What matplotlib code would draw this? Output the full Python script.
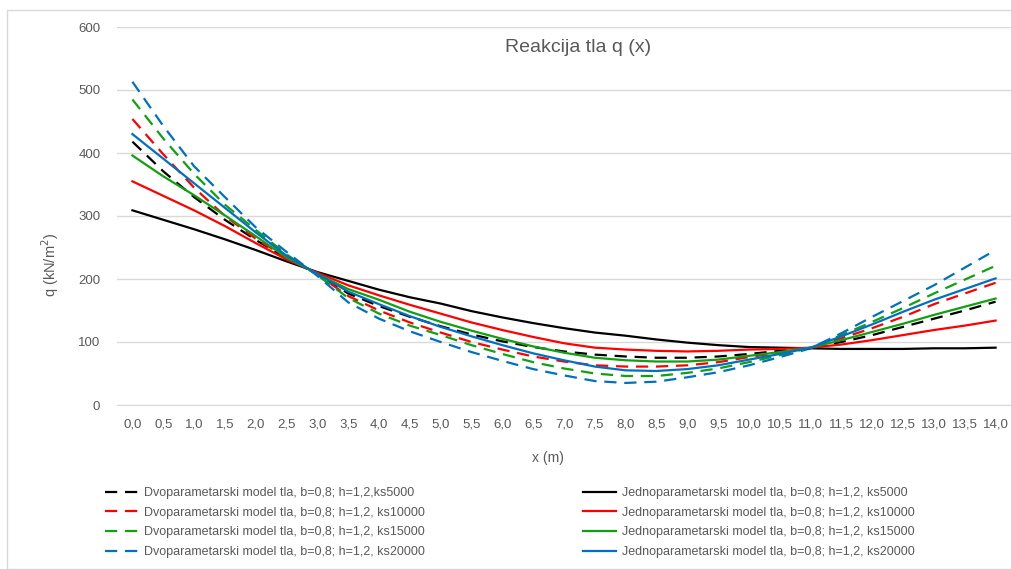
import matplotlib.pyplot as plt
from matplotlib.patches import Rectangle

plt.rcParams['font.family'] = ['Liberation Sans', 'DejaVu Sans']

# x positions (m), shown as category labels
x_m = [i * 0.5 for i in range(29)]
x_labels = [('%.1f' % v).replace('.', ',') for v in x_m]

# Jednoparametarski model tla (solid)
j5000 = [309, 294, 279, 263, 246, 228, 211, 197, 183, 171, 161, 149, 139, 130, 122,
         115, 110, 104, 99, 95, 92, 91, 90, 89, 89, 89, 90, 90, 91]
j10000 = [355, 332, 309, 284, 257, 231, 210, 190, 174, 159, 145, 131, 119, 108, 98,
          91, 88, 86, 85, 86, 88, 89, 91, 96, 103, 111, 119, 126, 134]
j15000 = [396, 363, 333, 301, 268, 234, 208, 184, 167, 148, 132, 118, 105, 93, 83,
          75, 71, 69, 69, 72, 78, 84, 91, 103, 116, 129, 143, 156, 169]
j20000 = [430, 391, 352, 313, 274, 237, 208, 180, 160, 141, 124, 109, 95, 82, 71,
          61, 55, 54, 57, 63, 72, 81, 91, 109, 128, 148, 167, 184, 201]

# Dvoparametarski model tla (dashed)
d5000 = [418, 371, 330, 294, 262, 233, 208, 177, 157, 140, 125, 112, 101, 92, 85,
         80, 77, 75, 75, 77, 81, 86, 91, 100, 111, 124, 137, 150, 164]
d10000 = [454, 398, 345, 300, 264, 234, 207, 173, 150, 131, 115, 100, 88, 77, 69,
          63, 61, 61, 63, 68, 76, 83, 91, 106, 122, 140, 160, 177, 194]
d15000 = [485, 423, 367, 318, 278, 239, 206, 170, 145, 126, 111, 95, 81, 68, 58,
          50, 46, 46, 51, 58, 68, 79, 91, 111, 132, 154, 177, 199, 221]
d20000 = [513, 443, 379, 330, 282, 243, 205, 163, 137, 117, 100, 84, 70, 57, 47,
          38, 35, 37, 44, 52, 63, 76, 90, 114, 140, 165, 190, 218, 246]

colors = ['#000000', '#FF0000', '#10A010', '#0070C0']
ks = ['5000', '10000', '15000', '20000']
dashed = [d5000, d10000, d15000, d20000]
solid = [j5000, j10000, j15000, j20000]

fig = plt.figure(figsize=(10.11, 5.69), dpi=100)
fig.patches.append(Rectangle((7 / 1011, 0), 1.0, 1 - 10 / 569, transform=fig.transFigure,
                             fill=False, edgecolor='#D9D9D9', lw=1))
ax = fig.add_axes([117 / 1011, 1 - 405 / 569, 1 - 117 / 1011, (405 - 27) / 569])

idx = list(range(len(x_m)))
h_d = []
h_s = []
for i in range(4):
    sep = '' if i == 0 else ' '
    l, = ax.plot(idx, dashed[i], color=colors[i], lw=1.6, linestyle=(0, (5.5, 3.5)),
                 label='Dvoparametarski model tla, b=0,8; h=1,2,' + sep + 'ks' + ks[i])
    h_d.append(l)
for i in range(4):
    l, = ax.plot(idx, solid[i], color=colors[i], lw=1.6,
                 label='Jednoparametarski model tla, b=0,8; h=1,2, ks' + ks[i])
    h_s.append(l)

ax.set_xlim(-0.5, 28.5)
ax.set_ylim(0, 600)
ax.set_yticks(range(0, 601, 100))
ax.set_xticks(idx)
ax.set_xticklabels(x_labels)
ax.tick_params(length=0, labelsize=9.5, colors='#595959')
ax.tick_params(axis='y', pad=12)
ax.tick_params(axis='x', pad=10)
ax.grid(axis='y', color='#D9D9D9', lw=1)
ax.set_axisbelow(True)
for s in ['top', 'right', 'left']:
    ax.spines[s].set_visible(False)
ax.spines['bottom'].set_color('#D9D9D9')

fig.text(578 / 1011, 1 - 48 / 569, 'Reakcija tla q (x)', ha='center', va='center',
         fontsize=14, color='#595959')
fig.text(50 / 1011, 1 - 265 / 569, 'q (kN/m$^2$)', rotation=90, ha='center', va='center',
         fontsize=10.5, color='#595959')
fig.text(548 / 1011, 1 - 458 / 569, 'x (m)', ha='center', va='center',
         fontsize=10, color='#595959')

leg_kw = dict(frameon=False, fontsize=9, handlelength=2.6, handletextpad=0.5,
              labelspacing=0.62, labelcolor='#595959', borderaxespad=0)
leg1 = fig.legend(handles=h_d, loc='upper left', bbox_to_anchor=(100 / 1011, 1 - 482 / 569), **leg_kw)
leg2 = fig.legend(handles=h_s, loc='upper left', bbox_to_anchor=(578 / 1011, 1 - 482 / 569), **leg_kw)

fig.savefig('out.png', dpi=100)
